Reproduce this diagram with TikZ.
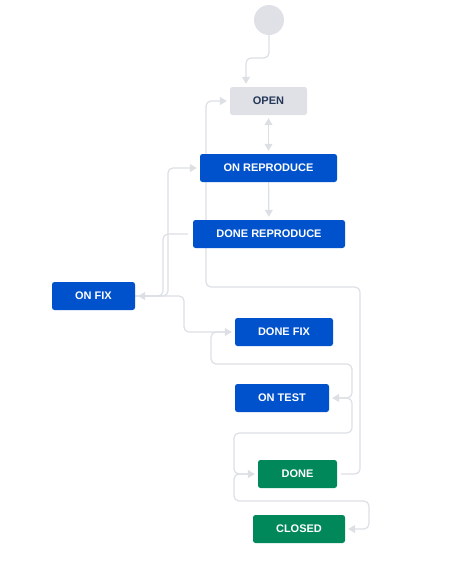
\documentclass[tikz,border=0pt]{standalone}
\usepackage{fontspec}
\setmainfont{Liberation Sans}
\usetikzlibrary{arrows.meta,backgrounds}
\definecolor{jirablue}{HTML}{0052CC}
\definecolor{jiragreen}{HTML}{00875A}
\definecolor{jiragrey}{HTML}{DFE1E6}
\definecolor{jiraline}{HTML}{DCDFE4}
\definecolor{jiratext}{HTML}{253858}

\begin{document}
\begin{tikzpicture}[x=1pt, y=-1pt,
  state/.style={rectangle, rounded corners=2.5pt, minimum height=28pt, inner sep=0pt,
    font=\fontsize{11}{12}\selectfont\bfseries, text=white},
  progress/.style={state, fill=jirablue},
  finished/.style={state, fill=jiragreen},
  link/.style={draw=jiraline, line width=1.2pt, rounded corners=5pt, shorten >=3pt,
    -{Triangle[length=7pt,width=8pt]}},
  ]
  \useasboundingbox (0,0) rectangle (448,571);

  \node[circle, fill=jiragrey, minimum size=30pt, inner sep=0pt] (start) at (269,20) {};
  \node[state, fill=jiragrey, text=jiratext, minimum width=77pt] (open) at (268.5,101) {OPEN};
  \node[progress, minimum width=137pt] (onreproduce) at (268.5,168) {ON REPRODUCE};
  \node[progress, minimum width=152pt] (donereproduce) at (269,234) {DONE REPRODUCE};
  \node[progress, minimum width=83pt] (onfix) at (93.5,296) {ON FIX};
  \node[progress, minimum width=98pt] (donefix) at (284,332) {DONE FIX};
  \node[progress, minimum width=94pt] (ontest) at (282,398) {ON TEST};
  \node[finished, minimum width=79pt] (done) at (297.5,474) {DONE};
  \node[finished, minimum width=92pt] (closed) at (299,529) {CLOSED};

  \begin{scope}[on background layer]
  \draw[link] (start.south) -- (269,58) -| ([xshift=-22.5pt]open.north);
  \draw[link, shorten <=3pt, {Triangle[length=7pt,width=8pt]}-{Triangle[length=7pt,width=8pt]}] (open) -- (onreproduce);
  \draw[link] (onreproduce) -- (donereproduce);

  \draw[link, shorten <=4pt] (done.east) -- (360,474) -- (360,287) -- (206,287) -- (206,101) -- (open.west);
  \draw[link] (onfix.east) -- (168,296) -- (168,168) -- (onreproduce.west);
  \draw[link, shorten <=5pt] (donereproduce.west) -- (163,234) -- (163,296) -- (onfix.east);
  \draw[link] (onfix.east) -- (184,296) -- (184,332) -- (donefix.west);

  \draw[link, shorten <=4pt] (donefix.west) -- (211,332) -- (211,364) -- (352,364) -- (352,398) -- (ontest.east);
  \draw[link, shorten <=4pt] (ontest.east) -- (352,398) -- (352,433) -- (234,433) -- (234,474) -- (done.west);
  \draw[link, shorten <=4pt] (done.west) -- (234,474) -- (234,501) -- (369,501) -- (369,529) -- (closed.east);
  \end{scope}
\end{tikzpicture}
\end{document}
